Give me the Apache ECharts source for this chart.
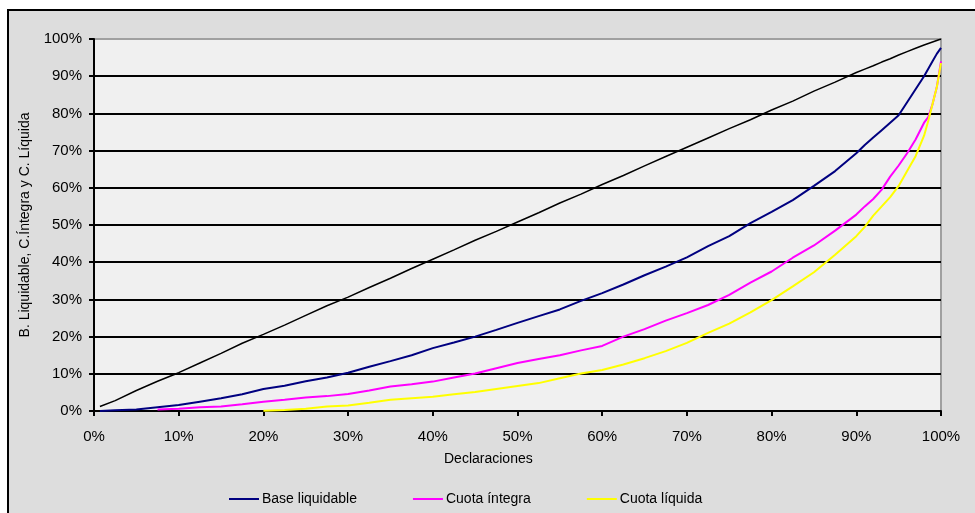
<!DOCTYPE html>
<html>
<head>
<meta charset="utf-8">
<script src="https://cdn.jsdelivr.net/npm/echarts@6/dist/echarts.min.js"></script>
<style>
  html, body { margin: 0; padding: 0; background: #fff; }
  #chart { width: 975px; height: 513px; }
</style>
</head>
<body>
<div id="chart"></div>
<script>
// % acumulado de declaraciones (eje x)
var declaraciones = [0.7, 2.5, 5, 7.5, 10, 12.5, 15, 17.5, 20, 22.5, 25, 27.5, 30, 32.5, 35, 37.5, 40, 42.5, 45, 47.5,
    50, 52.5, 55, 57.5, 60, 62.5, 65, 67.5, 70, 72.5, 75, 77.5, 80, 82.5, 85, 87.5, 90, 91, 92, 93,
    94, 95, 96, 97, 98, 98.5, 99, 99.5, 100];
// curva de referencia (negra, sin leyenda)
var equidad = [1.2, 2.8, 5.5, 8, 10.3, 12.9, 15.5, 18.2, 20.6, 23.1, 25.7, 28.3, 30.6, 33.2, 35.7, 38.3, 40.8, 43.3, 45.9, 48.3,
    50.8, 53.3, 55.9, 58.3, 60.9, 63.3, 65.9, 68.4, 70.9, 73.4, 75.9, 78.3, 80.9, 83.3, 86, 88.4, 91, 91.9, 92.8, 93.8,
    94.7, 95.7, 96.6, 97.5, 98.4, 98.8, 99.2, 99.6, 100];
var baseLiquidable = [0, 0.2, 0.4, 1.0, 1.6, 2.5, 3.4, 4.5, 5.9, 6.8, 8, 9, 10.3, 11.9, 13.4, 15, 16.9, 18.4, 20, 21.8,
    23.7, 25.5, 27.3, 29.6, 31.7, 34, 36.5, 38.8, 41.3, 44.3, 47, 50.5, 53.5, 56.7, 60.5, 64.5, 69.3, 71.5, 73.5, 75.5,
    77.5, 79.5, 83, 86.5, 90, 92, 94, 96, 97.6];
var cuotaIntegra = [null, null, null, 0.4, 0.6, 1.0, 1.2, 1.8, 2.5, 3, 3.6, 4, 4.6, 5.5, 6.6, 7.2, 7.9, 9, 10.1, 11.5,
    12.9, 14, 15, 16.3, 17.5, 20, 22, 24.3, 26.3, 28.5, 31.2, 34.5, 37.5, 41.2, 44.5, 48.5, 52.8, 55, 57, 59.5,
    63, 66, 69.3, 73, 77.5, 79, 82.5, 87, 94];
var cuotaLiquida = [null, null, null, null, null, null, null, null, 0.1, 0.3, 0.6, 1.2, 1.5, 2.2, 3, 3.4, 3.8, 4.5, 5.1, 5.9,
    6.7, 7.5, 8.8, 10.1, 11, 12.5, 14.2, 16.1, 18.3, 21, 23.5, 26.5, 29.8, 33.5, 37.3, 42, 47, 49.5, 52.5, 55,
    57.5, 60.5, 64.5, 68.5, 74, 78, 82.5, 87, 93.5];
var ticksPct = [0, 10, 20, 30, 40, 50, 60, 70, 80, 90, 100];

function pares(ys) {
    var out = [];
    for (var i = 0; i < declaraciones.length; i++) {
        if (ys[i] !== null) out.push([declaraciones[i], ys[i]]);
    }
    return out;
}

var font = 'Liberation Sans, Arial, sans-serif';
var gridColors = ticksPct.map(function (t) { return t === 100 ? '#a0a0a0' : '#000'; });

var myChart = echarts.init(document.getElementById('chart'));
var option = {
    animation: false,
    backgroundColor: '#ffffff',
    textStyle: { fontFamily: font, color: '#000' },
    graphic: [{
        type: 'rect',
        z: -10,
        shape: { x: 8, y: 10, width: 990, height: 530 },
        style: { fill: '#dddddd', stroke: '#000', lineWidth: 2 }
    }, {
        type: 'text',
        left: 487 - 43,
        top: 452,
        style: { text: 'Declaraciones', fill: '#000', font: '14px ' + font }
    }],
    grid: {
        left: 94, right: 34, top: 39, bottom: 102,
        show: true,
        backgroundColor: '#f0f0f0',
        borderColor: '#a0a0a0',
        borderWidth: 2
    },
    legend: {
        data: ['Base liquidable', 'Cuota íntegra', 'Cuota líquida'],
        left: 224,
        top: 487,
        icon: 'rect',
        itemWidth: 30,
        itemHeight: 2,
        itemGap: 56,
        textStyle: { fontFamily: font, fontSize: 14, color: '#000', padding: [0, 0, 0, -2] }
    },
    xAxis: {
        type: 'value',
        min: 0, max: 100, interval: 10,
        axisLine: { show: true, onZero: false, lineStyle: { color: '#000', width: 2 } },
        axisTick: { show: true, length: 5, lineStyle: { color: '#000', width: 2 } },
        axisLabel: { formatter: '{value}%', fontSize: 15, color: '#000', fontFamily: font, margin: 18 },
        splitLine: { show: false }
    },
    yAxis: {
        type: 'value',
        min: 0, max: 100, interval: 10,
        name: 'B. Liquidable, C.Íntegra y C. Líquida',
        nameLocation: 'middle',
        nameGap: 62,
        nameTextStyle: { fontSize: 14, color: '#000', fontFamily: font },
        axisLine: { show: true, lineStyle: { color: '#000', width: 2 } },
        axisTick: { show: true, length: 5, lineStyle: { color: '#000', width: 2 } },
        axisLabel: { formatter: '{value}%', fontSize: 15, color: '#000', fontFamily: font, margin: 12 },
        splitLine: { show: true, lineStyle: { color: gridColors, width: 2 } }
    },
    series: [{
        name: 'Equidad',
        type: 'line',
        data: pares(equidad),
        showSymbol: false,
        lineStyle: { color: '#000', width: 1.5 },
        itemStyle: { color: '#000' },
        z: 3
    }, {
        name: 'Base liquidable',
        type: 'line',
        data: pares(baseLiquidable),
        showSymbol: false,
        lineStyle: { color: '#000080', width: 2 },
        itemStyle: { color: '#000080' },
        z: 4
    }, {
        name: 'Cuota íntegra',
        type: 'line',
        data: pares(cuotaIntegra),
        showSymbol: false,
        lineStyle: { color: '#ff00ff', width: 2 },
        itemStyle: { color: '#ff00ff' },
        z: 5
    }, {
        name: 'Cuota líquida',
        type: 'line',
        data: pares(cuotaLiquida),
        showSymbol: false,
        lineStyle: { color: '#ffff00', width: 2 },
        itemStyle: { color: '#ffff00' },
        z: 6
    }]
};
myChart.setOption(option);
</script>
</body>
</html>
